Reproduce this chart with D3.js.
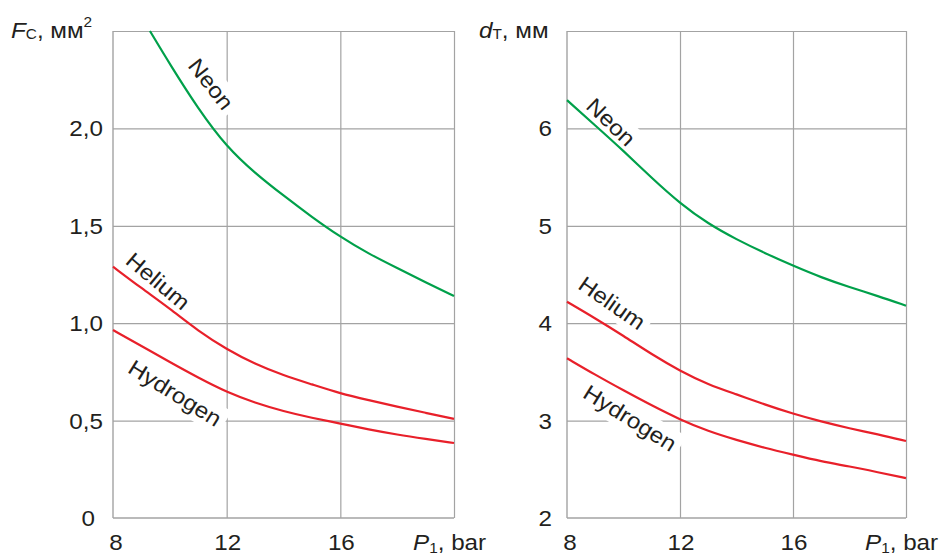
<!DOCTYPE html>
<html>
<head>
<meta charset="utf-8">
<script src="https://cdn.jsdelivr.net/npm/d3@7"></script>
<style>
  body { margin: 0; background: #fff; }
  svg { display: block; font-family: "Liberation Sans", Arial, sans-serif; }
</style>
</head>
<body>
<svg id="chart" width="948" height="558"></svg>
<script>
// pressure values, bar
const pressure = [8, 9, 10, 11, 12, 13, 14, 15, 16, 17, 18, 19, 20]
const neonLeftP = [9.3, 10, 11, 12, 13, 14, 15, 16, 17, 18, 19, 20]

// left panel: F_C, mm2
const neonF = [2.5, 2.33, 2.1, 1.905, 1.77, 1.655, 1.545, 1.443, 1.356, 1.283, 1.21, 1.14]
const heliumF = [1.29, 1.18, 1.075, 0.96, 0.866, 0.79, 0.732, 0.686, 0.639, 0.605, 0.571, 0.54, 0.509]
const hydrogenF = [0.965, 0.883, 0.80, 0.72, 0.646, 0.591, 0.548, 0.514, 0.485, 0.454, 0.428, 0.406, 0.385]

// right panel: d_T, mm
const neonD = [6.29, 6.03, 5.77, 5.49, 5.23, 5.02, 4.86, 4.72, 4.59, 4.47, 4.37, 4.28, 4.18]
const heliumD = [4.22, 4.05, 3.87, 3.68, 3.51, 3.37, 3.27, 3.165, 3.07, 2.99, 2.92, 2.86, 2.79]
const hydrogenD = [3.64, 3.47, 3.31, 3.155, 3.01, 2.89, 2.80, 2.72, 2.65, 2.58, 2.53, 2.47, 2.41]

const xTicks = [8, 12, 16]
const leftTicks = [0, 0.5, 1.0, 1.5, 2.0]
const rightTicks = [2, 3, 4, 5, 6]

const GREEN = "#00a04a"
const RED = "#e8202a"
const GRID = "#a3a3a3"
const INK = "#231f20"
const FS = 22
const STRETCH = 1.1

const SVG = d3.select("#chart")

// text is a bit wider in the original, so every label is stretched a little
function addText(parent, x, y, anchor, rotate) {
    const g = parent.append("g")
        .attr("transform", `translate(${x}, ${y})${rotate ? ` rotate(${rotate})` : ""} scale(${STRETCH}, 1)`)
    const t = g.append("text")
        .attr("text-anchor", anchor)
        .style("font-size", FS + "px")
        .attr("fill", INK)
    return { g, t }
}

const panels = [
    {
        left: 113, right: 454, yDomain: [0, 2.5], ticks: leftTicks,
        fmt: d => d === 0 ? "0" : d3.format(".1f")(d).replace(".", ","), labelRight: 103,
        series: [
            { p: neonLeftP, v: neonF, color: GREEN },
            { p: pressure, v: heliumF, color: RED },
            { p: pressure, v: hydrogenF, color: RED }
        ],
        labels: [
            { text: "Neon", x: 211, y: 84, angle: 52 },
            { text: "Helium", x: 158, y: 281, angle: 40 },
            { text: "Hydrogen", x: 175, y: 393, angle: 32 }
        ]
    },
    {
        left: 567, right: 906, yDomain: [2, 7], ticks: rightTicks,
        fmt: d => d, labelRight: 552,
        series: [
            { p: pressure, v: neonD, color: GREEN },
            { p: pressure, v: heliumD, color: RED },
            { p: pressure, v: hydrogenD, color: RED }
        ],
        labels: [
            { text: "Neon", x: 611, y: 122, angle: 44 },
            { text: "Helium", x: 612, y: 303, angle: 35 },
            { text: "Hydrogen", x: 630, y: 418, angle: 32 }
        ]
    }
]

const Top = 31
const Bottom = 518

panels.forEach(panel => {
    const x = d3.scaleLinear().domain([8, 20]).range([panel.left, panel.right])
    const y = d3.scaleLinear().domain(panel.yDomain).range([Bottom, Top])
    const G = SVG.append("g")

    // grid
    G.append("g")
        .attr("transform", `translate(0, ${Bottom})`)
        .call(d3.axisBottom(x).tickValues([12, 16, 20]).tickSize(-(Bottom - Top)).tickFormat(""))
        .call(g => g.select(".domain").remove())
        .selectAll("line").attr("stroke", GRID).attr("stroke-width", 1.2)

    G.append("g")
        .attr("transform", `translate(${panel.left}, 0)`)
        .call(d3.axisLeft(y).tickValues(panel.ticks.slice(1).concat([panel.yDomain[1]])).tickSize(-(panel.right - panel.left)).tickFormat(""))
        .call(g => g.select(".domain").remove())
        .selectAll("line").attr("stroke", GRID).attr("stroke-width", 1.2)

    // curve labels on white boxes
    panel.labels.forEach(l => {
        const { g, t } = addText(G, l.x, l.y, "middle", l.angle)
        t.text(l.text).attr("dy", "0.35em")
        const b = t.node().getBBox()
        g.insert("rect", "text")
            .attr("x", b.x - 5).attr("y", b.y - 2)
            .attr("width", b.width + 10).attr("height", b.height + 4)
            .attr("fill", "#fff")
    })

    // axes (left and bottom)
    G.append("line")
        .attr("x1", panel.left).attr("x2", panel.left)
        .attr("y1", Top).attr("y2", Bottom)
        .attr("stroke", GRID).attr("stroke-width", 1.4)
    G.append("line")
        .attr("x1", panel.left).attr("x2", panel.right)
        .attr("y1", Bottom).attr("y2", Bottom)
        .attr("stroke", GRID).attr("stroke-width", 1.4)

    // tick labels
    panel.ticks.forEach(t => {
        addText(G, panel.labelRight - (t === 0 && panel.left < 200 ? 8 : 0), y(t), "end")
            .t.text(panel.fmt(t)).attr("dy", "0.36em")
    })
    xTicks.forEach(t => {
        addText(G, x(t) + (t === 8 ? 3 : 1), 550, "middle").t.text(t)
    })

    // P1, bar
    const pl = addText(G, panel.right - 41, 550, "start").t
    pl.append("tspan").text("P").style("font-style", "italic")
    pl.append("tspan").text("1").style("font-size", "14px").attr("dy", 3)
    pl.append("tspan").text(", bar").attr("dy", -3)

    // curves
    const line = d3.line()
        .x(d => x(d[0]))
        .y(d => y(d[1]))
        .curve(d3.curveBasis)

    panel.series.forEach(s => {
        G.append("path")
            .datum(s.p.map((p, i) => [p, s.v[i]]))
            .attr("d", line)
            .attr("fill", "none")
            .attr("stroke", s.color)
            .attr("stroke-width", 2.2)
    })
})

// axis titles
const t1 = addText(SVG, 11, 38, "start").t
t1.append("tspan").text("F").style("font-style", "italic")
t1.append("tspan").text("C").style("font-size", "14px").attr("dy", 1)
t1.append("tspan").text(", мм").attr("dy", -1)
t1.append("tspan").text("2").style("font-size", "14px").attr("dy", -11)

const t2 = addText(SVG, 479, 38, "start").t
t2.append("tspan").text("d").style("font-style", "italic")
t2.append("tspan").text("T").style("font-size", "14px").attr("dy", 1)
t2.append("tspan").text(", мм").attr("dy", -1)
</script>
</body>
</html>
